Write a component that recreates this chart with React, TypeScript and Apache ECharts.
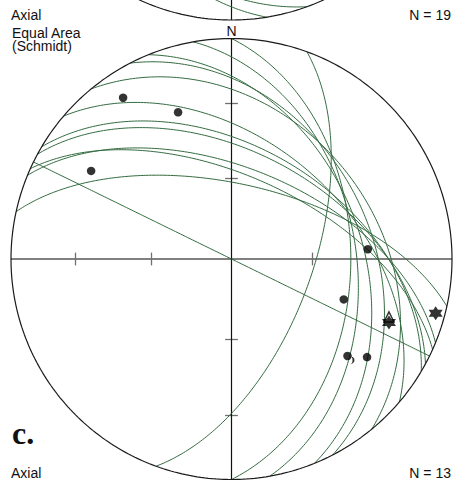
import React, { useEffect, useRef } from "react";
import * as echarts from "echarts";

// ---- data (degrees) ----
// main net great circles: dip direction / dip
const planeDipDir = [40.4, 30.6, 28.4, 26.1, 24.2, 22.3, 12.4, 50.5, 62.7, 67.9, 80, 90, 110];
const planeDip = [46, 48, 50, 90, 59, 56, 62, 35, 37, 41, 43, 45, 60];
// upper (cut-off) net great circles
const upperDipDir = [260.8, 250];
const upperDip = [36, 31.6];
// poles / lineations: trend / plunge
const dotTrend = [326.1, 340.0, 302.1, 85.9, 109.8, 129.9, 125.9];
const dotPlunge = [12.9, 29.9, 25.8, 38.0, 45.0, 32.0, 25.1];
const starTrend = [112.0, 104.9];
const starPlunge = [24.0, 4.7];
const triTrend = [110.2];
const triPlunge = [24.9];
const moonTrend = [130.0];
const moonPlunge = [29.4];
// axis tick plunges
const tickPlunges = [60, 30];

const D = Math.PI / 180;
const UPPER_Y = 2.0839;

function proj(trend: number, plunge: number, yOff = 0): [number, number] {
  const t = trend * D, p = plunge * D;
  const e = Math.cos(p) * Math.sin(t);
  const n = Math.cos(p) * Math.cos(t);
  const d = Math.sin(p);
  const k = Math.sqrt(1 + d);
  return [e / k, n / k + yOff];
}

function greatCircle(dd: number, dip: number, yOff = 0): [number, number][] {
  const s = (dd - 90) * D, a = dd * D, b = dip * D;
  const S = [Math.sin(s), Math.cos(s), 0];
  const Dv = [Math.sin(a) * Math.cos(b), Math.cos(a) * Math.cos(b), Math.sin(b)];
  const pts: [number, number][] = [];
  for (let i = 0; i <= 180; i += 1) {
    const t = i * D;
    const e = Math.cos(t) * S[0] + Math.sin(t) * Dv[0];
    const n = Math.cos(t) * S[1] + Math.sin(t) * Dv[1];
    const d = Math.max(0, Math.cos(t) * S[2] + Math.sin(t) * Dv[2]);
    const k = Math.sqrt(1 + d);
    pts.push([e / k, n / k + yOff]);
  }
  return pts;
}

function circle(yOff = 0): [number, number][] {
  const pts: [number, number][] = [];
  for (let i = 0; i <= 360; i++) pts.push([Math.sin(i * D), Math.cos(i * D) + yOff]);
  return pts;
}

const STAR =
  "path://M0,-10 L2.887,-5 L8.66,-5 L5.774,0 L8.66,5 L2.887,5 L0,10 L-2.887,5 L-8.66,5 L-5.774,0 L-8.66,-5 L-2.887,-5 Z";
const MOON = "path://M0,-10 A10,10 0 0 1 0,10 A6,10 0 0 0 0,-10 Z";

const GREEN = "#336b40";

export default function App() {
  const ref = useRef<HTMLDivElement>(null);
  useEffect(() => {
    if (!ref.current) return;
    const chart = echarts.init(ref.current, undefined, { renderer: "svg" });
    const series: any[] = [];
    const lineSeries = (data: [number, number][], color: string, width: number, z = 2) => ({
      type: "line",
      data,
      showSymbol: false,
      symbol: "none",
      silent: true,
      z,
      lineStyle: { color, width },
    });
    planeDipDir.forEach((dd, i) => series.push(lineSeries(greatCircle(dd, planeDip[i]), GREEN, 1)));
    upperDipDir.forEach((dd, i) => series.push(lineSeries(greatCircle(dd, upperDip[i], UPPER_Y), GREEN, 1)));
    series.push(lineSeries(circle(), "#1a1a1a", 1.2, 3));
    series.push(lineSeries(circle(UPPER_Y), "#1a1a1a", 1.2, 3));

    const segs: any[] = [];
    const tl = 0.029;
    tickPlunges.forEach((p) => {
      const r = proj(0, p)[1];
      segs.push({ coords: [[-tl, r], [tl, r]] });
      segs.push({ coords: [[-tl, -r], [tl, -r]] });
    });
    const hsegs: any[] = [];
    tickPlunges.forEach((p) => {
      const r = proj(0, p)[1];
      hsegs.push({ coords: [[-r, -tl], [-r, tl]] });
    });
    hsegs.push({ coords: [[proj(0, tickPlunges[0])[1], -tl], [proj(0, tickPlunges[0])[1], tl]] });

    series.push({
      type: "lines",
      coordinateSystem: "cartesian2d",
      silent: true,
      z: 1,
      lineStyle: { color: "#808080", width: 2, opacity: 1 },
      data: [{ coords: [[-1, 0], [1, 0]] }],
    });
    series.push({
      type: "lines",
      coordinateSystem: "cartesian2d",
      silent: true,
      z: 1,
      lineStyle: { color: "#707070", width: 1.3, opacity: 1 },
      data: hsegs.concat(segs),
    });
    series.push({
      type: "lines",
      coordinateSystem: "cartesian2d",
      silent: true,
      z: 1,
      lineStyle: { color: "#111", width: 1.2, opacity: 1 },
      data: [{ coords: [[0, -1], [0, 1]] }, { coords: [[0, UPPER_Y - 1], [0, 1.3]] }],
    });

    series.push({
      type: "scatter",
      z: 5,
      symbol: "circle",
      symbolSize: 8.5,
      itemStyle: { color: "#000" },
      data: dotTrend.map((t, i) => proj(t, dotPlunge[i])),
    });
    series.push({
      type: "scatter",
      z: 5,
      symbol: "triangle",
      symbolSize: 10,
      itemStyle: { color: "#fff", borderColor: "#000", borderWidth: 1.5 },
      data: triTrend.map((t, i) => proj(t, triPlunge[i])),
    });
    series.push({
      type: "scatter",
      z: 5,
      symbol: MOON,
      symbolSize: [5, 8],
      itemStyle: { color: "#000" },
      data: moonTrend.map((t, i) => proj(t, moonPlunge[i])),
    });
    series.push({
      type: "scatter",
      z: 6,
      symbol: STAR,
      symbolSize: 14,
      itemStyle: { color: "#000" },
      data: starTrend.map((t, i) => proj(t, starPlunge[i])),
    });

    const font = "'Liberation Sans', Arial, sans-serif";
    const txt = (text: string, x: number, y: number, align = "left", extra: any = {}) => ({
      type: "text",
      x,
      y,
      z: 10,
      style: {
        text,
        fill: "#111",
        font: `14px ${font}`,
        align,
        verticalAlign: "middle",
        ...extra,
      },
    });

    chart.setOption({
      animation: false,
      grid: { left: 0, top: 0, width: 455, height: 481, containLabel: false },
      xAxis: { type: "value", min: -1.04989, max: 1.01361, show: false },
      yAxis: { type: "value", min: -1.0068, max: 1.1746, show: false },
      series,
      graphic: [
        txt("Axial", 11, 14.5),
        txt("N = 19", 451, 14.5, "right"),
        txt("Equal Area\n(Schmidt)", 12, 39.5, "left", { lineHeight: 13 }),
        txt("N", 231.5, 31, "center"),
        txt("Axial", 11, 472.5),
        txt("N = 13", 451, 472.5, "right"),
        {
          type: "text",
          x: 12,
          y: 449,
          z: 10,
          style: {
            text: "c.",
            fill: "#111",
            font: "bold 32px 'Liberation Serif', 'Times New Roman', serif",
            align: "left",
            verticalAlign: "bottom",
          },
        },
      ],
    });
    return () => chart.dispose();
  }, []);
  return (
    <div
      ref={ref}
      style={{ position: "fixed", left: 0, top: 0, width: 455, height: 481, background: "#fff" }}
    />
  );
}
